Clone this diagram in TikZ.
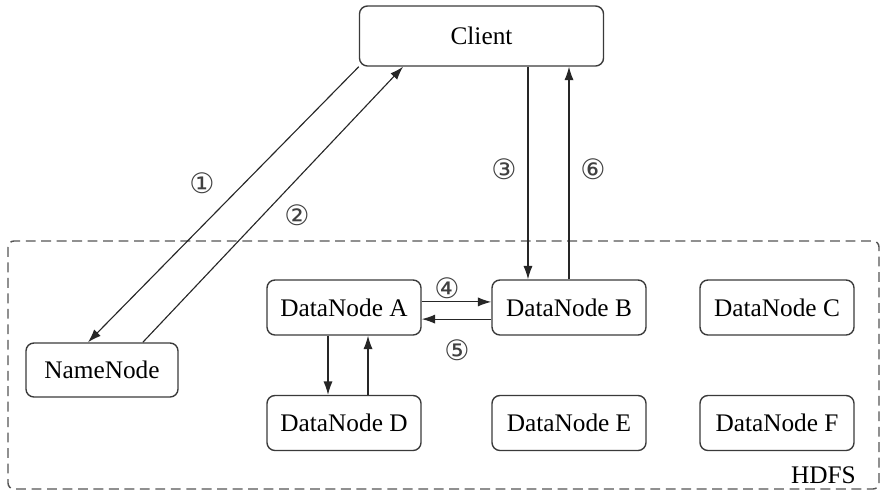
\documentclass[tikz,border=0pt]{standalone}
\usepackage{fontspec}
\setmainfont{Liberation Serif}
\newfontfamily\circfont{DejaVu Sans}
\usetikzlibrary{arrows.meta}

\definecolor{boxgray}{HTML}{3A3A3A}
\definecolor{framegray}{HTML}{555555}

\begin{document}
\begin{tikzpicture}[
    x=0.025cm, y=-0.025cm,
    box/.style={rectangle, rounded corners=0.2cm, draw=boxgray,
                line width=1pt, minimum width=3.85cm,
                minimum height=1.375cm, font=\fontsize{18}{20}\selectfont},
    arr/.style={-{Latex[length=9.5pt,width=6.5pt]}, line width=0.8pt,
                black!85},
    numlbl/.style={font=\circfont\fontsize{20}{22}\selectfont,
                   text=black!75},
    frame/.style={draw=framegray, line width=1pt, dash pattern=on 7pt off 4pt,
                  rounded corners=0.15cm},
]
\useasboundingbox (0,0) rectangle (881,496);

% HDFS cluster
\draw[frame] (8,241) rectangle (879,489);
\node[font=\fontsize{18}{20}\selectfont, inner sep=0pt, anchor=base east]
    (hdfs) at (856,483) {HDFS};

% Client
\node[box, minimum width=6.1cm, minimum height=1.5cm] (client)
    at (481.5,36) {Client};

% NameNode and DataNodes
\node[box, minimum width=3.8cm, minimum height=1.35cm] (name)
    at (102,370) {NameNode};
\node[box] (dna) at (344,307.5) {DataNode A};
\node[box] (dnb) at (569,307.5) {DataNode B};
\node[box] (dnc) at (777,307.5) {DataNode C};
\node[box] (dnd) at (344,423) {DataNode D};
\node[box] (dne) at (569,423) {DataNode E};
\node[box] (dnf) at (777,423) {DataNode F};

% Client <-> NameNode
\draw[arr] (client.south west) -- ([xshift=-0.35cm]name.north);
\draw[arr] ([xshift=1.02cm]name.north) -- ([xshift=-1.96cm]client.south);
\node[numlbl] (n1) at (202,183) {①};
\node[numlbl] (n2) at (297,215) {②};

% Client <-> DataNode B
\draw[arr] ([xshift=-1.025cm]dnb.north |- client.south)
    -- ([xshift=-1.025cm]dnb.north);
\draw[arr] (dnb.north) -- (dnb.north |- client.south);
\node[numlbl] (n3) at (504,169) {③};
\node[numlbl] (n6) at (593,169) {⑥};

% DataNode A <-> DataNode B
\draw[arr] ([yshift=0.14cm]dna.east) -- ([yshift=0.14cm]dnb.west);
\draw[arr] ([yshift=-0.29cm]dnb.west) -- ([yshift=-0.29cm]dna.east);
\node[numlbl] (n4) at (447,288) {④};
\node[numlbl] (n5) at (457,350) {⑤};

% DataNode A <-> DataNode D
\draw[arr] ([xshift=-0.4cm]dna.south) -- ([xshift=-0.4cm]dnd.north);
\draw[arr] ([xshift=0.6cm]dnd.north) -- ([xshift=0.6cm]dna.south);

\end{tikzpicture}
\end{document}
